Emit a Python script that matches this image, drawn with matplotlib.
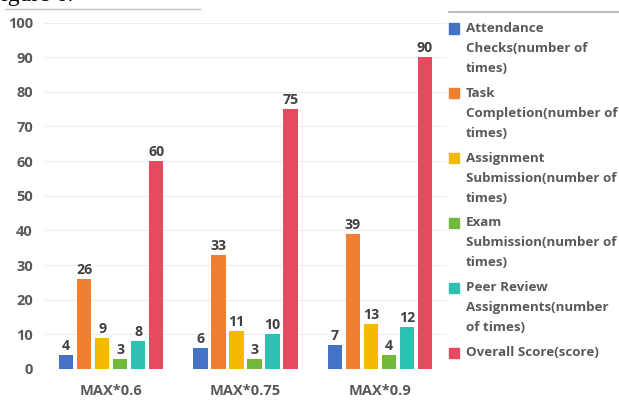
import numpy as np
import matplotlib.pyplot as plt
from matplotlib.patches import Rectangle
from matplotlib.lines import Line2D

W, H = 619, 403

groups = ['MAX*0.6', 'MAX*0.75', 'MAX*0.9']
series = ['Attendance\nChecks(number of\ntimes)',
          'Task\nCompletion(number of\ntimes)',
          'Assignment\nSubmission(number of\ntimes)',
          'Exam\nSubmission(number of\ntimes)',
          'Peer Review\nAssignments(number\nof times)',
          'Overall Score(score)']
attendance = [4, 6, 7]
task = [26, 33, 39]
assignment = [9, 11, 13]
exam = [3, 3, 4]
peer = [8, 10, 12]
overall = [60, 75, 90]
values = [attendance, task, assignment, exam, peer, overall]
colors = ['#4472C4', '#F08030', '#F5BA00', '#72B83A', '#2EC0B0', '#E64A60']

plt.rcParams['font.family'] = ['Open Sans', 'DejaVu Sans']

fig = plt.figure(figsize=(W / 100, H / 100), dpi=100)
ax = fig.add_axes([44 / W, 1 - 369 / H, 403 / W, (369 - 22.5) / H])

x = np.arange(len(groups))
step = 0.134
bw = 0.105
for i, (vals, c) in enumerate(zip(values, colors)):
    pos = x + (i - 2.5) * step
    bars = ax.bar(pos, vals, bw, color=c, zorder=3)
    for b, v in zip(bars, vals):
        ax.annotate(str(v), (b.get_x() + b.get_width() / 2, v),
                    xytext=(0, 1.5), textcoords='offset points',
                    ha='center', va='bottom', fontsize=10.2,
                    fontweight='bold', color='#404040')

ax.set_xlim(-0.5, 2.5)
ax.set_ylim(0, 100)
ax.set_yticks(range(0, 101, 10))
ax.set_xticks(x)
ax.set_xticklabels(groups)
ax.tick_params(length=0, labelsize=10.5, labelcolor='#595959')
ax.tick_params(axis='y', pad=8)
ax.tick_params(axis='x', pad=11)
for lab in ax.get_xticklabels() + ax.get_yticklabels():
    lab.set_fontweight('bold')
ax.grid(axis='y', color='#EEEEEE', linewidth=0.8, zorder=0)
for s in ax.spines.values():
    s.set_visible(False)
ax.axhline(0, color='#E6E6E6', linewidth=0.8, zorder=2)

# legend drawn by hand
y0 = 28.5
for i, (lab, c) in enumerate(zip(series, colors)):
    yc = y0 + 64.8 * i
    fig.patches.append(Rectangle((449 / W, 1 - (yc + 5) / H), 10 / W, 10 / H,
                                 transform=fig.transFigure, color=c))
    for j, line in enumerate(lab.split('\n')):
        fig.text(466 / W, 1 - (yc + 20 * j) / H, line, ha='left', va='center',
                 fontsize=9.6, fontweight='bold', color='#595959')

# bits of the page around the chart
fig.add_artist(Line2D([5 / W, 200 / W], [1 - 9 / H, 1 - 9 / H],
                      transform=fig.transFigure, color='#C0C0C0', lw=1))
fig.add_artist(Line2D([449 / W, 1], [1 - 12 / H, 1 - 12 / H],
                      transform=fig.transFigure, color='#B0B0B0', lw=1.2))
fig.text(-12 / W, 1 - 0.8 / H, 'Figure 6.', family='Liberation Serif',
         fontsize=17, va='baseline', ha='left', color='black')

fig.savefig('out.png', dpi=100)
